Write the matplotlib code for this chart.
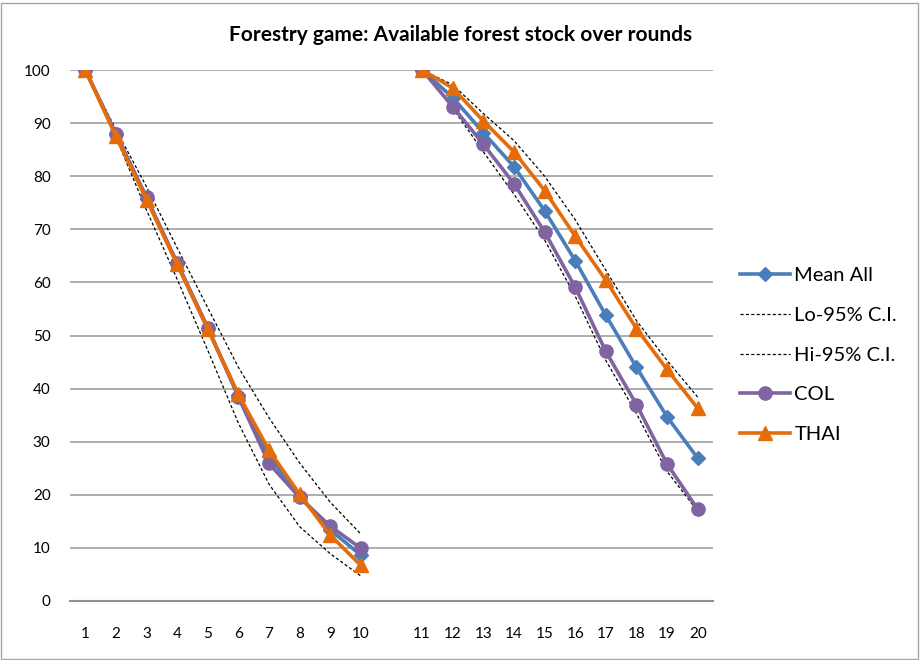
import matplotlib
matplotlib.use("Agg")
import matplotlib.pyplot as plt
from matplotlib.patches import Rectangle
import numpy as np

plt.rcParams['font.family'] = ['Lato', 'DejaVu Sans']

# Category labels (blank category separates the two blocks of rounds)
rounds = ['1', '2', '3', '4', '5', '6', '7', '8', '9', '10', '',
          '11', '12', '13', '14', '15', '16', '17', '18', '19', '20']

nan = np.nan
mean_all = [100, 87.9, 75.8, 63.5, 51.3, 38.8, 27.3, 19.7, 13.4, 8.6, nan,
            100, 94.8, 88.2, 81.8, 73.5, 64.1, 53.8, 44.0, 34.7, 26.9]
lo_ci = [100, 87.3, 73.6, 60.6, 47.2, 33.5, 22.0, 14.0, 8.9, 4.7, nan,
         100, 92.8, 84.6, 76.6, 68.0, 57.4, 45.3, 35.3, 24.4, 16.9]
hi_ci = [100, 88.8, 78.0, 66.5, 55.2, 44.0, 34.5, 26.0, 18.6, 12.6, nan,
         100, 97.2, 91.8, 86.7, 80.0, 71.8, 62.3, 52.8, 45.3, 38.4]
col = [100, 88.0, 76.0, 63.7, 51.5, 38.4, 25.9, 19.5, 14.1, 9.9, nan,
       100, 93.1, 86.0, 78.6, 69.5, 59.1, 47.0, 37.0, 25.8, 17.3]
thai = [100, 87.5, 75.6, 63.4, 51.2, 38.9, 28.4, 20.1, 12.4, 6.7, nan,
        100, 96.6, 90.4, 84.6, 77.3, 68.7, 60.4, 51.3, 43.6, 36.3]

title = 'Forestry game: Available forest stock over rounds'
series_names = ['Mean All', 'Lo-95% C.I.', 'Hi-95% C.I.', 'COL', 'THAI']

blue = '#4A7EBB'
purple = '#8064A2'
orange = '#E46C0A'

W, H = 922, 660
fig = plt.figure(figsize=(W / 100, H / 100), dpi=100)
ax = fig.add_axes([70 / W, 1 - 601 / H, (713 - 70) / W, (601 - 70) / H])

x = np.arange(len(rounds))

ax.plot(x, mean_all, color=blue, lw=2.6, marker='D', ms=7.5, mec=blue, mfc=blue,
        label=series_names[0], zorder=3)
ax.plot(x, lo_ci, color='black', lw=0.9, ls=(0, (2.5, 1.8)),
        label=series_names[1], zorder=2)
ax.plot(x, hi_ci, color='black', lw=0.9, ls=(0, (2.5, 1.8)),
        label=series_names[2], zorder=2)
ax.plot(x, col, color=purple, lw=2.6, marker='o', ms=9.5, mec=purple, mfc=purple,
        label=series_names[3], zorder=4)
ax.plot(x, thai, color=orange, lw=2.6, marker='^', ms=10, mec=orange, mfc=orange,
        label=series_names[4], zorder=5)

ax.set_xlim(-0.5, len(rounds) - 0.5)
ax.set_ylim(0, 100)
ax.set_yticks(np.arange(0, 101, 10))
ax.set_xticks(x)
ax.set_xticklabels(rounds)
ax.tick_params(axis='both', length=0, labelsize=11, colors='black')
ax.tick_params(axis='y', pad=14)
ax.tick_params(axis='x', pad=19)
ax.grid(axis='y', color='#A0A0A0', lw=1.2)
ax.set_axisbelow(True)
for s in ['left', 'right', 'top']:
    ax.spines[s].set_visible(False)
ax.spines['bottom'].set_color('#909090')
ax.spines['bottom'].set_linewidth(1.5)

fig.text(461 / W, 1 - 35 / H, title, ha='center', va='center',
         fontsize=15, fontweight='bold')

handles, labels = ax.get_legend_handles_labels()
leg = fig.legend(handles, labels, loc='center left',
                 bbox_to_anchor=(740 / W, 1 - 355 / H), frameon=False,
                 fontsize=14.5, handlelength=2.5, handletextpad=0.2,
                 labelspacing=1.12, borderpad=0, borderaxespad=0)

fig.patches.append(Rectangle((1 / W, 1 / H), (W - 5) / W, (H - 4) / H,
                             transform=fig.transFigure, fill=False,
                             edgecolor='#A6A6A6', lw=1))

fig.savefig('out.png', dpi=100)
